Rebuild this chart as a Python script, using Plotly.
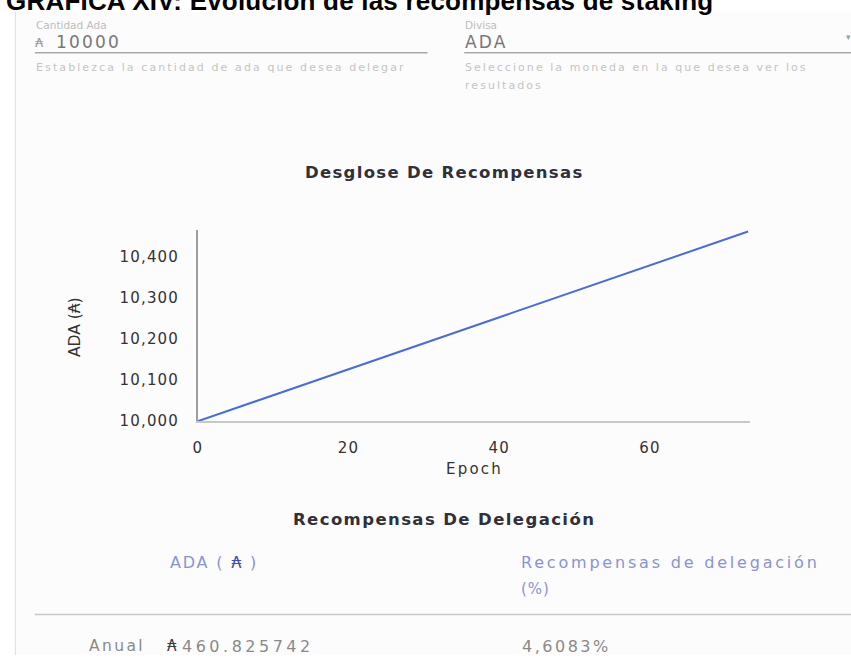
import plotly.graph_objects as go

W, H = 851, 664

# ---------------- data ----------------
epochs = [0, 10, 20, 30, 40, 50, 60, 70, 73]
ada_balance = [10000, 10063, 10126, 10189, 10253, 10316, 10379, 10442, 10461]

x_tick_vals = [0, 20, 40, 60]
x_tick_labels = ["0", "20", "40", "60"]
y_tick_vals = [10000, 10100, 10200, 10300, 10400]
y_tick_labels = ["10,000", "10,100", "10,200", "10,300", "10,400"]

page_title = "GRÁFICA XIV: Evolución de las recompensas de staking"
amount_label = "Cantidad Ada"
amount_value = "10000"
amount_help = "Establezca la cantidad de ada que desea delegar"
currency_label = "Divisa"
currency_value = "ADA"
currency_help = ["Seleccione la moneda en la que desea ver los", "resultados"]
chart_title = "Desglose De Recompensas"
x_title = "Epoch"
y_title = "ADA (₳)"
table_title = "Recompensas De Delegación"
table_col2 = ["Recompensas de delegación", "(%)"]
row_label = "Anual"
row_ada = "460.825742"
row_pct = "4,6083%"

# ---------------- helpers ----------------
REG = "DejaVu Sans"


def px(x):
    return x / W


def py(y):
    return 1 - y / H


def sp(text, ls=0, color=None):
    style = []
    if ls:
        style.append(f"letter-spacing:{ls}px")
    if color:
        style.append(f"color:{color}")
    if not style:
        return text
    return f'<span style="{";".join(style)}">{text}</span>'


annotations = []


def label(text, x, y, size, color, ls=0, anchor="left", family=REG, weight=None, angle=0):
    f = dict(family=family, size=size, color=color)
    if weight:
        f["weight"] = weight
    annotations.append(dict(
        text=sp(text, ls), x=px(x), y=py(y), xref="paper", yref="paper",
        xanchor=anchor, yanchor="middle", showarrow=False, font=f,
        borderpad=0, textangle=angle,
    ))


shapes = []


def hline(x0, x1, y, color, width):
    shapes.append(dict(type="line", xref="paper", yref="paper",
                       x0=px(x0), x1=px(x1), y0=py(y), y1=py(y),
                       line=dict(color=color, width=width)))


# card background + left border
shapes.append(dict(type="rect", xref="paper", yref="paper", x0=px(10), x1=1,
                   y0=0, y1=py(12), fillcolor="#fcfcfc", line=dict(width=0), layer="below"))
shapes.append(dict(type="line", xref="paper", yref="paper", x0=px(10.5), x1=px(10.5),
                   y0=0, y1=py(12), line=dict(color="#e2e2e2", width=1.2), layer="below"))

# ---------------- page texts ----------------
label(page_title, 0, 1, 26, "#000000", ls=0.2, family="Liberation Sans", weight="bold")

label(amount_label, 30, 25, 10.5, "#bdbdbd")
label("₳", 29, 43, 13, "#9a9a9a")
label(amount_value, 50, 43, 17, "#777777", ls=2.2)
hline(30, 425, 53.5, "#a9a9a9", 1.5)
label(amount_help, 30, 68, 11, "#c4c4c4", ls=2.1)

label(currency_label, 462, 25, 10.5, "#bdbdbd")
label(currency_value, 462, 43, 17, "#777777", ls=2.2)
hline(462, 851, 53.5, "#a9a9a9", 1.5)
label("▾", 845, 38, 9, "#a0a0a0")
label(currency_help[0], 462, 68, 11, "#c4c4c4", ls=2.05)
label(currency_help[1], 462, 87, 11, "#c4c4c4", ls=2.05)

label(chart_title, 442, 174.5, 16.5, "#30303a", ls=1.3, anchor="center", weight="bold")
label(x_title, 472, 475, 15, "#333333", ls=2.2, anchor="center")
label(y_title, 70, 332, 15.5, "#333333", anchor="center", angle=-90)

label(table_title, 441.5, 526.5, 16.5, "#30303a", ls=1.4, anchor="center", weight="bold")
annotations.append(dict(
    text=sp("ADA ( ", 1.8) + sp("₳", 1.8, "#3f4fae") + sp(" )", 1.8),
    x=px(165), y=py(570), xref="paper", yref="paper", xanchor="left", yanchor="middle",
    showarrow=False, borderpad=0, font=dict(family=REG, size=16, color="#8a93cf")))
label(table_col2[0], 518, 570, 16, "#8a93cf", ls=2.8)
label(table_col2[1], 518, 597, 15, "#8a93cf", ls=1.0)
hline(30, 851, 623, "#c8c8c8", 1.5)
label(row_label, 83, 655, 15.5, "#8a8a8a", ls=2.4)
label("₳", 162, 655, 15, "#3d3d3d")
label(row_ada, 177, 655, 16, "#8a8a8a", ls=3.5)
label(row_pct, 519, 655, 16, "#8a8a8a", ls=2.5)

# ---------------- chart ----------------
fig = go.Figure()
fig.add_trace(go.Scatter(
    x=epochs, y=ada_balance, mode="lines",
    line=dict(color="#4a6dd3", width=2), hoverinfo="skip", cliponaxis=False,
))

fig.update_layout(
    width=W, height=H, autosize=False,
    margin=dict(l=0, r=0, t=0, b=0, pad=0),
    paper_bgcolor="#ffffff", plot_bgcolor="rgba(0,0,0,0)",
    showlegend=False,
    font=dict(family=REG),
    annotations=annotations,
    shapes=shapes,
    xaxis=dict(
        domain=[px(194), px(749)], range=[0, 73.2],
        showline=True, linecolor="#c8c8c8", linewidth=2,
        showgrid=False, zeroline=False,
        ticks="outside", ticklen=12, tickcolor="rgba(0,0,0,0)",
        tickvals=x_tick_vals, ticktext=[sp(t, 1.2) for t in x_tick_labels],
        tickfont=dict(family=REG, size=15, color="#333333"),
        fixedrange=True,
    ),
    yaxis=dict(
        domain=[py(427), py(233)], range=[10000, 10465],
        showline=True, linecolor="#9e9e9e", linewidth=1.5,
        showgrid=False, zeroline=False,
        ticks="outside", ticklen=14, tickcolor="rgba(0,0,0,0)",
        tickvals=y_tick_vals, ticktext=[sp(t, 1.2) for t in y_tick_labels],
        tickfont=dict(family=REG, size=15, color="#333333"),
        fixedrange=True,
    ),
)

fig.write_html("out.html", config={"displayModeBar": False})
